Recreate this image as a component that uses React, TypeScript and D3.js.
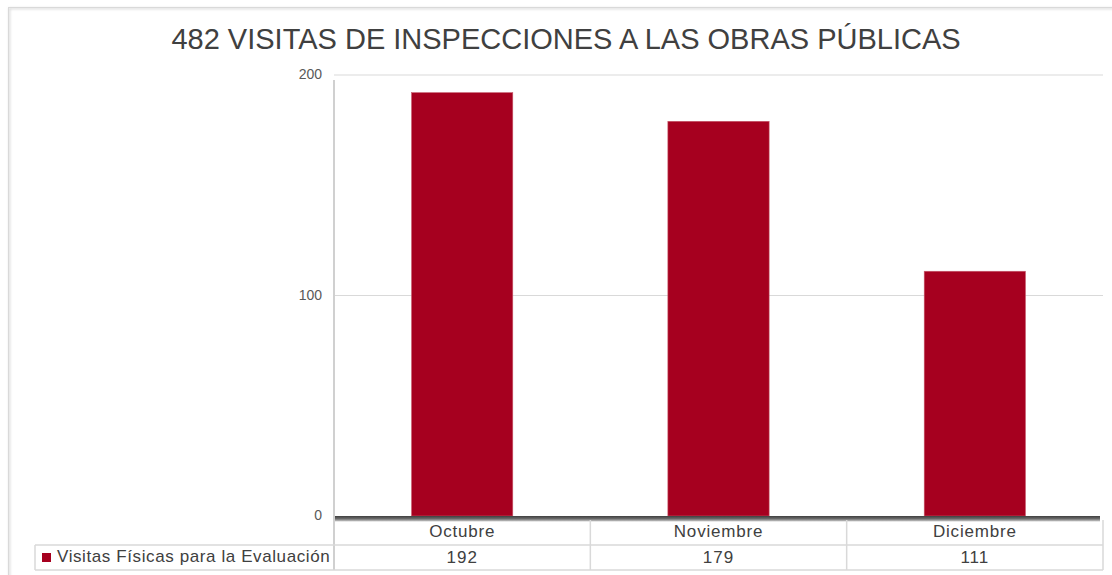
import * as d3 from 'd3'

const categories = ['Octubre', 'Noviembre', 'Diciembre']
const visitas = [192, 179, 111]
const yTicks = [0, 100, 200]
const seriesName = 'Visitas Físicas para la Evaluación'
const title = '482 VISITAS DE INSPECCIONES A LAS OBRAS PÚBLICAS'

export default function App() {
  const width = 1112
  const height = 575
  const left = 334
  const right = 1103
  const top = 75
  const bottom = 516
  const rowH = 25
  const legendLeft = 35
  const font = '"Liberation Sans", Arial, sans-serif'

  const x = d3.scaleBand<string>().domain(categories).range([left, right]).padding(0)
  const y = d3.scaleLinear().domain([0, 200]).range([bottom, top])
  const barW = x.bandwidth() * 0.395

  const row1 = bottom + 4
  const row2 = row1 + rowH
  const row3 = row2 + rowH

  return (
    <svg width={width} height={height} style={{ position: 'absolute', left: 0, top: 0 }}>
      <defs>
        <linearGradient id="axisShadow" x1="0" y1="0" x2="0" y2="1">
          <stop offset="0" stopColor="#3f3f3f" />
          <stop offset="0.5" stopColor="#6a6a6a" />
          <stop offset="1" stopColor="#d0d0d0" />
        </linearGradient>
        <filter id="soft" x="-5%" y="-5%" width="110%" height="110%">
          <feGaussianBlur stdDeviation="1" />
        </filter>
      </defs>
      <rect x={0} y={0} width={width} height={height} fill="#fff" />
      {/* outer chart frame */}
      <rect x={9.5} y={8.5} width={1120} height={600} fill="none" stroke="#d4d4d4" strokeWidth={1.5} filter="url(#soft)" />
      <rect x={8.5} y={7.5} width={1120} height={600} fill="none" stroke="#d9d9d9" strokeWidth={1} />

      <text x={566} y={49} textAnchor="middle" fontFamily={font} fontSize={29} fill="#404040">
        {title}
      </text>

      {/* gridlines */}
      {yTicks.filter(t => t > 0).map(t => (
        <line key={t} x1={left} x2={right} y1={y(t)} y2={y(t)} stroke="#d9d9d9" strokeWidth={1} />
      ))}
      {/* right shadow */}
      <line x1={right + 1.5} x2={right + 1.5} y1={top + 5} y2={row1} stroke="#c8c8c8" strokeWidth={2.5} filter="url(#soft)" />
      {/* left axis */}
      <line x1={left} x2={left} y1={top + 5} y2={row3} stroke="#d0d0d0" strokeWidth={2} />

      {yTicks.map(t => (
        <text key={t} x={322} y={y(t) + 4} textAnchor="end" fontFamily={font} fontSize={14} fill="#595959">
          {t}
        </text>
      ))}

      {/* bars */}
      {categories.map((c, i) => (
        <rect
          key={c}
          x={x(c)! + (x.bandwidth() - barW) / 2}
          y={y(visitas[i])}
          width={barW}
          height={bottom - y(visitas[i])}
          fill="#A6001F"
          stroke="#c75a6c"
          strokeWidth={0.6}
        />
      ))}

      {/* axis bar with shadow */}
      <rect x={left + 1} y={bottom} width={right - left - 4} height={5.5} fill="url(#axisShadow)" />

      {/* data table */}
      {[row2, row3].map((ry, i) => (
        <line key={i} x1={legendLeft} x2={right} y1={ry} y2={ry} stroke="#d9d9d9" strokeWidth={1.5} />
      ))}
      {categories.map(c => (
        <line key={c} x1={x(c)! + x.bandwidth()} x2={x(c)! + x.bandwidth()} y1={row1} y2={row3} stroke="#d9d9d9" strokeWidth={1.5} />
      ))}
      <line x1={legendLeft} x2={legendLeft} y1={row2} y2={row3} stroke="#d9d9d9" strokeWidth={1.5} />

      {categories.map((c, i) => (
        <g key={c}>
          <text x={x(c)! + x.bandwidth() / 2} y={row1 + 17} textAnchor="middle" fontFamily={font} fontSize={17} letterSpacing={0.8} fill="#404040">
            {c}
          </text>
          <text x={x(c)! + x.bandwidth() / 2} y={row2 + 18} textAnchor="middle" fontFamily={font} fontSize={17} letterSpacing={1} fill="#404040">
            {visitas[i]}
          </text>
        </g>
      ))}

      <rect x={42} y={row2 + 8} width={9} height={9} fill="#A6001F" />
      <text x={57} y={row2 + 17} fontFamily={font} fontSize={17} letterSpacing={0.6} fill="#404040">
        {seriesName}
      </text>
    </svg>
  )
}
